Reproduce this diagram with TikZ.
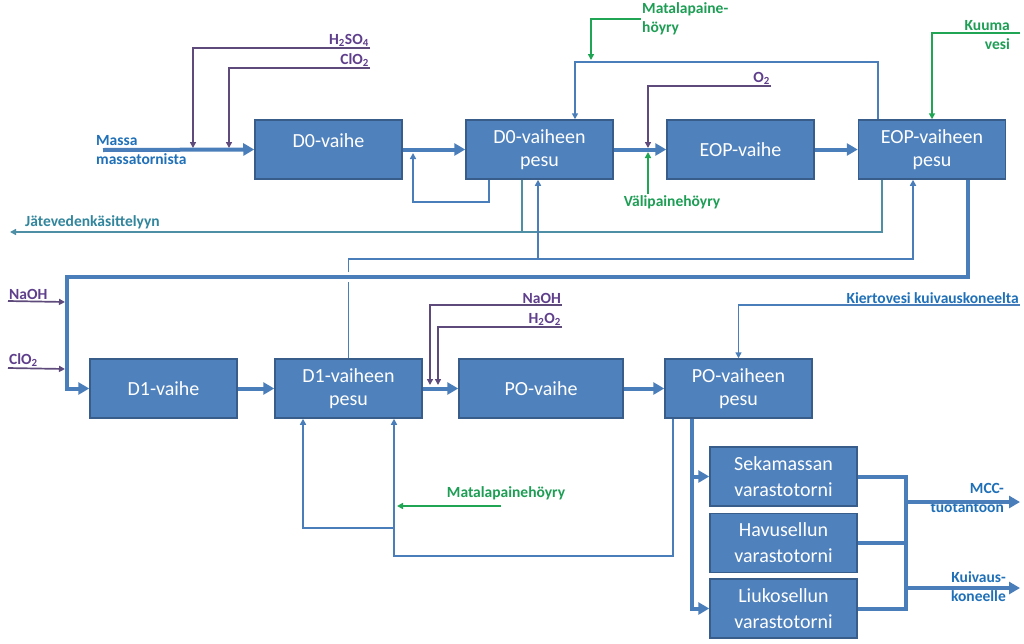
\documentclass[tikz,border=0pt]{standalone}
\usepackage{fontspec}
\setmainfont{Carlito}
\usepackage{tikz}
\usetikzlibrary{arrows.meta}
\definecolor{boxblue}{HTML}{4F81BD}
\definecolor{boxedge}{HTML}{385D8A}
\definecolor{flow}{HTML}{4A7EBB}
\definecolor{chemline}{HTML}{5E4B7C}
\definecolor{chemtxt}{HTML}{5F3F8C}
\definecolor{steamline}{HTML}{1FA553}
\definecolor{steamtxt}{HTML}{1E9E55}
\definecolor{wasteline}{HTML}{4F8FA6}
\definecolor{wastetxt}{HTML}{31859C}
\definecolor{bluetxt}{HTML}{1F70B8}

\begin{document}
\begin{tikzpicture}[x=1pt,y=-1pt,
  box/.style={draw=boxedge, fill=boxblue, line width=1.5pt, minimum width=147pt, minimum height=59pt, inner sep=0pt, text=white, align=center, font=\fontsize{20}{23}\selectfont},
  lbl/.style={inner sep=1pt, font=\fontsize{15.5}{19}\selectfont\bfseries},
  main/.style={draw=flow, line width=4pt, -{Triangle[length=11pt,width=12pt]}},
  thin/.style={draw=flow, line width=1.7pt},
  chem/.style={draw=chemline, line width=1.7pt},
  steam/.style={draw=steamline, line width=1.7pt},
  waste/.style={draw=wasteline, line width=1.7pt},
  tip/.style={-{Triangle[length=6pt,width=6pt]}}]
\fill[white] (0,0) rectangle (1024,643);
\useasboundingbox (0,0) rectangle (1024,643);

\node[box] (d0) at (328.5,149.5) {\raisebox{9pt}[\height][\depth]{D0-vaihe}};
\node[box] (d0p) at (539.5,149.5) {D0-vaiheen\\pesu};
\node[box] (eop) at (740.5,149.5) {EOP-vaihe};
\node[box] (eopp) at (932,149.5) {EOP-vaiheen\\pesu};
\node[box] (d1) at (163.5,388.5) {D1-vaihe};
\node[box] (d1p) at (348.5,388.5) {D1-vaiheen\\pesu};
\node[box, minimum width=164pt] (po) at (541,388.5) {PO-vaihe};
\node[box] (pop) at (738.5,388.5) {PO-vaiheen\\pesu};
\node[box] (seka) at (783.5,476.5) {Sekamassan\\[3pt]varastotorni};
\node[box] (havu) at (783.5,543) {Havusellun\\[3pt]varastotorni};
\node[box] (liuko) at (783.5,608.5) {Liukosellun\\[3pt]varastotorni};

\node[lbl, bluetxt, anchor=west, align=left] (massa) at (95,150) {Massa\\massatornista};
\node[lbl, chemtxt, anchor=south east] (h2so4) at (370,48) {H\textsubscript{2}SO\textsubscript{4}};
\node[lbl, chemtxt, anchor=south east] (clo2a) at (370,68) {ClO\textsubscript{2}};
\node[lbl, chemtxt, anchor=south east] (o2) at (771,86) {O\textsubscript{2}};
\node[lbl, steamtxt, anchor=west, align=left] (mph1) at (641,19) {Matalapaine-\\höyry};
\node[lbl, steamtxt, anchor=east, align=right] (kuuma) at (1011,35) {Kuuma\\vesi};
\node[lbl, steamtxt] (vali) at (672,202) {Välipainehöyry};
\node[lbl, wastetxt, anchor=south west] (jate) at (24,230) {Jätevedenkäsittelyyn};
\node[lbl, chemtxt, anchor=south west] (naoh1) at (8,301) {NaOH};
\node[lbl, chemtxt, anchor=south west] (clo2b) at (8,368) {ClO\textsubscript{2}};
\node[lbl, chemtxt, anchor=south east] (naoh2) at (562,305) {NaOH};
\node[lbl, chemtxt, anchor=south east] (h2o2) at (562,327) {H\textsubscript{2}O\textsubscript{2}};
\node[lbl, bluetxt, anchor=south east] (kierto) at (1020,305) {Kiertovesi kuivauskoneelta};
\node[lbl, steamtxt, anchor=south] (mph2) at (506,501) {Matalapainehöyry};
\node[lbl, bluetxt, anchor=east, align=right] (mcc) at (1005,498) {MCC-\\tuotantoon};
\node[lbl, bluetxt, anchor=east, align=right] (kuiv) at (1007,587) {Kuivaus-\\koneelle};

\coordinate (massain) at (103,150);
\coordinate (j1) at (193,148);
\coordinate (j2) at (229,148);
\coordinate (j3) at (648,148);
\coordinate (j4) at (648,152);
\coordinate (mj) at (591,60);
\coordinate (rc) at (878,62);
\coordinate (kv) at (1020,33);
\coordinate (d0r) at (413,153);
\coordinate (wout) at (10,232);
\coordinate (f1) at (348.5,259);
\coordinate (f2) at (538,259);
\coordinate (g1) at (348.5,282);
\coordinate (g2) at (348.5,272);
\coordinate (t1) at (67,277);
\coordinate (n1) at (65,302);
\coordinate (n2) at (65,369);
\coordinate (p1) at (430,385);
\coordinate (p2) at (438,385);
\coordinate (r1) at (394,556);
\coordinate (r2) at (394,528);
\coordinate (r3) at (303,528);
\coordinate (ms) at (501,506);
\coordinate (me) at (397,506);
\coordinate (s0) at (692,420);
\coordinate (m0) at (906,476.5);
\coordinate (mccout) at (1020,502);
\coordinate (kuivout) at (1020,588);

\draw[main] (massain) -- (d0.west);
\draw[main] (d0.east) -- (d0p.west);
\draw[main] (d0p.east) -- (eop.west);
\draw[main] (eop.east) -- (eopp.west);
\draw[chem, tip] (h2so4.south east) -| (j1);
\draw[chem, tip] (clo2a.south east) -| (j2);
\draw[chem, tip] (o2.south east) -| (j3);
\draw[steam, tip] (vali.north -| j4) -- (j4);
\draw[thin, tip] ([xshift=-54pt]eopp.north) -- (rc) -| ([xshift=35.5pt]d0p.north);
\draw[steam, tip] (mph1.west) -| (mj);
\draw[steam, tip] (kv) -| (eopp.north);
\draw[thin, tip] ([xshift=-50.5pt]d0p.south) -- ++(0,22) -| (d0r);
\draw[waste, tip] ([xshift=-50pt]eopp.south) |- (wout);
\draw[waste] ([xshift=-17.5pt]d0p.south) -- ++(0,52);

\draw[thin] (d1p.north) -- (g1);
\draw[thin, tip] (g2) -- (f1) -| ([xshift=-19pt]eopp.south);
\draw[thin, tip] (f2) -- (f2 |- d0p.south);
\draw[main] ([xshift=36pt]eopp.south) |- (t1) |- (d1.west);
\draw[chem, tip] (naoh1.south west) -- (n1);
\draw[chem, tip] (clo2b.south west) -- (n2);

\draw[main] (d1.east) -- (d1p.west);
\draw[main] (d1p.east) -- (po.west);
\draw[main] (po.east) -- (pop.west);
\draw[chem, tip] (naoh2.south east) -| (p1);
\draw[chem, tip] (h2o2.south east) -| (p2);
\draw[thin, tip] (kierto.south east) -| (pop.north);

\draw[thin, tip] ([xshift=-65.5pt]pop.south) |- (r1) -- (r1 |- d1p.south);
\draw[thin, tip] (r2) -- (r3) -- (r3 |- d1p.south);
\draw[steam, tip] (ms) -- (me);

\draw[main] (s0 |- pop.south) |- (liuko.west);
\draw[main] (s0 |- seka.west) -- (seka.west);
\draw[main, -] (seka.east) -- (m0) |- (liuko.east);
\draw[main, -] (havu.east) -- (havu.east -| m0);
\draw[main] (mccout -| m0) -- (mccout);
\draw[main] (kuivout -| m0) -- (kuivout);
\end{tikzpicture}
\end{document}
